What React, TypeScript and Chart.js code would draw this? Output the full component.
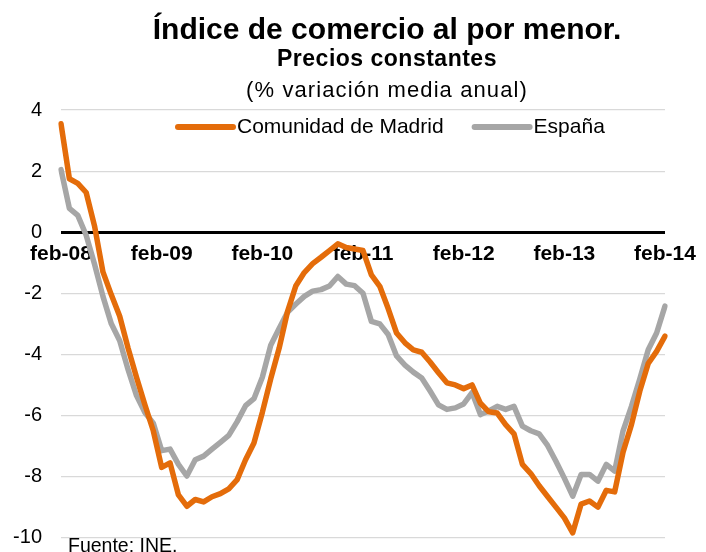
import React, { useEffect, useRef } from "react";
import { Chart, registerables } from "chart.js";

Chart.register(...registerables);

// ---- Data ----
const MONTHS = ["ene", "feb", "mar", "abr", "may", "jun", "jul", "ago", "sep", "oct", "nov", "dic"];
const FIRST_MONTH = 1; // feb
const FIRST_YEAR = 2008;
const N_POINTS = 73; // feb-08 .. feb-14

const categories: string[] = [];
for (let i = 0; i < N_POINTS; i++) {
  const m = (FIRST_MONTH + i) % 12;
  const y = FIRST_YEAR + Math.floor((FIRST_MONTH + i) / 12);
  categories.push(`${MONTHS[m]}-${String(y % 100).padStart(2, "0")}`);
}

const seriesNames = ["Comunidad de Madrid", "España"];
const seriesColors = ["#E46C0A", "#A6A6A6"];

const madrid = [
  3.55, 1.75, 1.6, 1.3, 0.2, -1.3, -2.05, -2.75, -3.8, -4.75, -5.65, -6.5,
  -7.7, -7.55, -8.6, -8.97, -8.75, -8.83, -8.66, -8.56, -8.4, -8.1, -7.45, -6.9,
  -5.9, -4.8, -3.8, -2.6, -1.75, -1.32, -1.03, -0.82, -0.6, -0.38, -0.5, -0.55,
  -0.6, -1.4, -1.77, -2.5, -3.3, -3.62, -3.85, -3.93, -4.25, -4.6, -4.93, -5.0,
  -5.12, -5.0, -5.6, -5.88, -5.92, -6.3, -6.6, -7.6, -7.9, -8.3, -8.65, -9.0,
  -9.35, -9.84, -8.9, -8.8, -9.0, -8.45, -8.5, -7.2, -6.3, -5.2, -4.3, -3.9,
  -3.4,
];

const espana = [
  2.05, 0.78, 0.55, -0.1, -1.05, -2.1, -3.0, -3.55, -4.5, -5.35, -5.9, -6.25,
  -7.15, -7.1, -7.6, -7.98, -7.45, -7.33, -7.1, -6.88, -6.65, -6.2, -5.68, -5.45,
  -4.75, -3.7, -3.15, -2.62, -2.35, -2.1, -1.93, -1.88, -1.76, -1.45, -1.7, -1.75,
  -2.0, -2.92, -3.0, -3.35, -4.05, -4.35, -4.58, -4.77, -5.2, -5.65, -5.8, -5.75,
  -5.62, -5.25, -5.97, -5.85, -5.7, -5.8, -5.7, -6.35, -6.5, -6.6, -6.98, -7.5,
  -8.05, -8.64, -7.93, -7.93, -8.15, -7.6, -7.82, -6.5, -5.7, -4.8, -3.85, -3.3,
  -2.42,
];

const Y_MIN = -10;
const Y_MAX = 4;
const Y_STEP = 2;
const X_LABEL_EVERY = 12;

const FONT = "'Liberation Sans', Arial, Helvetica, sans-serif";

const inlineLegend = {
  id: "inlineLegend",
  afterDatasetsDraw(chart: any) {
    const { ctx, chartArea } = chart;
    const y = chartArea.top + 17;
    let x = 178;
    ctx.save();
    ctx.font = `21px ${FONT}`;
    ctx.textBaseline = "middle";
    ctx.textAlign = "left";
    chart.data.datasets.forEach((ds: any) => {
      ctx.strokeStyle = ds.borderColor;
      ctx.lineWidth = 6;
      ctx.lineCap = "round";
      ctx.beginPath();
      ctx.moveTo(x, y);
      ctx.lineTo(x + 55, y);
      ctx.stroke();
      ctx.fillStyle = "#000";
      const tx = x + 59;
      ctx.fillText(ds.label, tx, y + 0.5);
      x = tx + ctx.measureText(ds.label).width + 31;
    });
    ctx.restore();
  },
};

export default function App() {
  const ref = useRef<HTMLCanvasElement | null>(null);

  useEffect(() => {
    if (!ref.current) return;
    Chart.defaults.font.family = FONT;
    Chart.defaults.color = "#000";
    const chart = new Chart(ref.current, {
      type: "line",
      data: {
        labels: categories,
        datasets: [
          {
            label: seriesNames[0],
            data: madrid,
            borderColor: seriesColors[0],
            backgroundColor: seriesColors[0],
            borderWidth: 5.5,
            pointRadius: 0,
            tension: 0,
            borderCapStyle: "round",
            borderJoinStyle: "round",
          },
          {
            label: seriesNames[1],
            data: espana,
            borderColor: seriesColors[1],
            backgroundColor: seriesColors[1],
            borderWidth: 5.5,
            pointRadius: 0,
            tension: 0,
            borderCapStyle: "round",
            borderJoinStyle: "round",
          },
        ],
      },
      options: {
        responsive: false,
        animation: false,
        layout: { padding: { top: 110, right: 41, bottom: 14.3, left: 0 } },
        plugins: {
          legend: { display: false },
          title: { display: false },
          tooltip: { enabled: false },
        },
        scales: {
          x: {
            type: "category",
            position: { y: 0 } as any,
            z: 1,
            grid: { display: false, drawTicks: false },
            border: { display: false },
            ticks: {
              autoSkip: false,
              maxRotation: 0,
              minRotation: 0,
              padding: 9,
              font: { size: 21, weight: "bold" },
              color: "#000",
              callback: function (this: any, value: any, index: number) {
                return index % X_LABEL_EVERY === 0 ? this.getLabelForValue(value) : null;
              },
            },
            afterFit: (s: any) => {
              s.height = 0;
            },
          },
          y: {
            min: Y_MIN,
            max: Y_MAX,
            grid: {
              color: (c: any) => (c.tick && c.tick.value === 0 ? "#000" : "#D9D9D9"),
              lineWidth: (c: any) => (c.tick && c.tick.value === 0 ? 3 : 1.2),
              drawTicks: false,
            },
            border: { display: false },
            ticks: {
              stepSize: Y_STEP,
              padding: 19,
              font: { size: 20 },
              color: "#000",
            },
            afterFit: (s: any) => {
              s.width = 61;
              s.paddingTop = 0;
              s.paddingBottom = 0;
            },
          },
        },
      },
      plugins: [inlineLegend],
    });
    return () => chart.destroy();
  }, []);

  const base: React.CSSProperties = {
    position: "absolute",
    left: 34,
    width: 706,
    textAlign: "center",
    fontFamily: FONT,
    color: "#000",
    whiteSpace: "nowrap",
  };

  return (
    <div
      style={{
        position: "fixed",
        left: 0,
        top: 0,
        width: 706,
        height: 552,
        overflow: "hidden",
        background: "#fff",
      }}
    >
      <canvas ref={ref} width={706} height={552} style={{ position: "absolute", left: 0, top: 0 }} />
      <div style={{ ...base, top: 14, fontSize: 30, lineHeight: "30px", fontWeight: "bold" }}>
        Índice de comercio al por menor.
      </div>
      <div style={{ ...base, top: 47, fontSize: 23, lineHeight: "23px", fontWeight: "bold", letterSpacing: 0.5 }}>
        Precios constantes
      </div>
      <div style={{ ...base, top: 78.5, fontSize: 22, lineHeight: "22px", letterSpacing: 1.1 }}>
        (% variación media anual)
      </div>
      <div
        style={{
          position: "absolute",
          left: 68,
          top: 535.5,
          fontFamily: FONT,
          fontSize: 19.5,
          lineHeight: "19.5px",
          color: "#000",
          whiteSpace: "nowrap",
        }}
      >
        Fuente: INE.
      </div>
    </div>
  );
}
